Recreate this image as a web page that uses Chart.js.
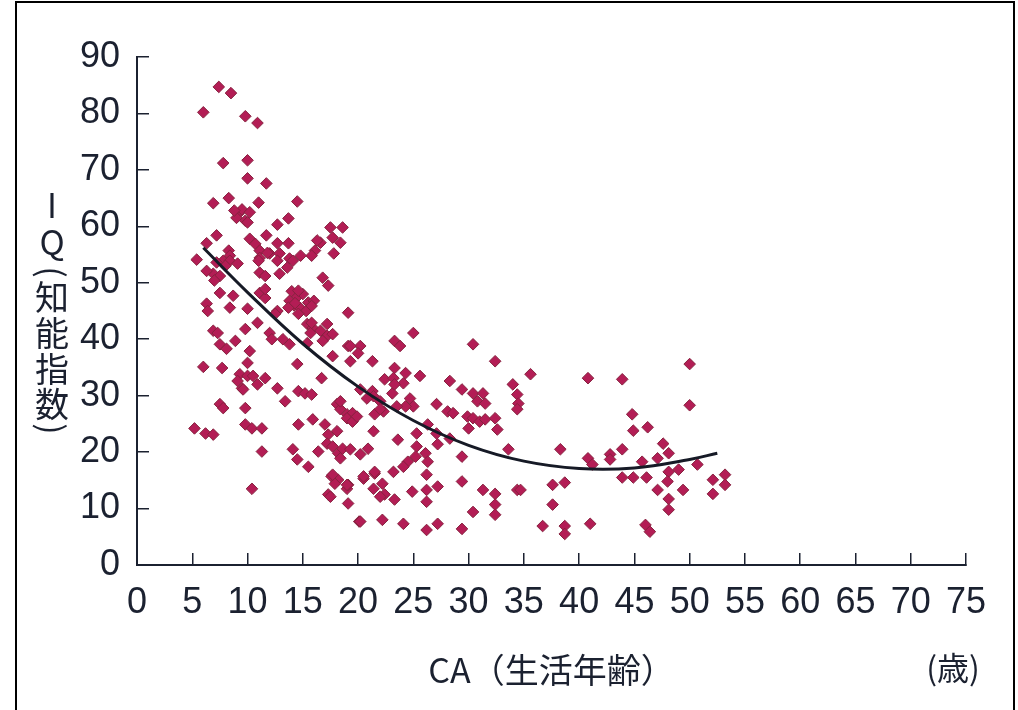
<!DOCTYPE html>
<html>
<head>
<meta charset="utf-8">
<title>IQ - CA</title>
<script src="https://cdn.jsdelivr.net/npm/chart.js@4.4.1/dist/chart.umd.min.js"></script>
<style>
    html, body { margin: 0; padding: 0; background: #ffffff; overflow: hidden; }
    #wrap { position: relative; width: 1018px; height: 710px; }
    #frame { position: absolute; left: 15px; top: 1px; width: 1000px; height: 740px; border: 2px solid #000; box-sizing: border-box; pointer-events: none; }
</style>
</head>
<body>
<div id="wrap">
    <canvas id="iqChart" width="1018" height="710"></canvas>
    <div id="frame"></div>
</div>
<script>
// CA (tuổi) cua tung diem
var ageValues = [
    7.4, 8.5, 6.0, 9.8, 10.9, 7.8, 10.0, 10.0, 11.7, 14.5, 6.9, 8.3, 9.2, 9.0, 9.5, 9.8, 10.2, 8.8, 11.0, 10.0,
    13.7, 12.7, 17.5, 18.6, 17.7, 18.4, 17.8, 7.2, 6.3, 8.3, 8.4, 10.2, 10.7, 11.1, 11.7, 12.7, 13.7, 12.0, 12.9, 16.6,
    16.1, 15.8, 14.8, 5.4, 7.8, 8.4, 7.2, 9.1, 11.1, 11.8, 13.8, 16.3, 11.0,
    6.9, 6.3, 7.5, 8.0, 7.0, 11.1, 11.6, 12.9, 13.6, 12.7, 14.1, 16.8, 17.3, 7.5, 8.7, 11.1, 11.6, 11.6,
    14.0, 14.5, 15.0, 15.5, 14.2, 14.8, 15.3, 16.0, 13.8, 14.6, 14.6, 15.8, 13.7, 14.3,
    6.3, 6.4, 8.4, 10.0, 12.7, 12.5, 19.1, 10.9, 6.9, 7.3, 9.8, 12.0, 12.2, 15.4, 15.9, 16.6, 17.2, 17.7, 15.7, 16.8,
    15.8, 17.2, 13.2, 13.8, 15.4, 7.5, 8.1, 8.9, 10.2, 17.7, 19.1, 19.3, 6.0, 7.7, 10.0, 14.5, 9.3, 10.0, 10.5, 9.1,
    9.5, 9.6, 10.9, 11.6, 12.7, 16.7, 14.6, 15.2, 15.8,
    18.1, 18.4, 19.0, 19.5, 7.5, 7.8, 9.8, 13.4, 5.2, 6.2, 6.9, 9.8, 10.4, 11.3, 14.6, 15.9, 17.0, 17.3, 17.2, 18.1,
    19.0, 19.5, 11.3, 14.1, 14.5, 15.5, 16.4, 17.7, 18.2, 18.6, 19.3, 17.6, 18.2, 17.9, 19.0, 10.4, 17.3,
    18.4, 20.2, 20.9, 17.7, 19.1, 20.5, 21.5, 17.5, 19.1, 20.1,
    25.0, 23.3, 23.8, 20.2, 20.0, 30.4, 32.4, 21.3, 23.3, 24.3, 22.4, 23.2, 24.1, 25.6, 28.3, 29.4, 30.4, 31.3, 30.8, 31.5,
    34.0, 34.4, 34.5, 34.4, 20.2, 21.3, 21.4, 20.8, 22.0, 23.1, 23.3, 24.7, 25.0, 24.3, 23.5, 22.3, 21.5, 22.0, 19.9, 18.4,
    27.1, 28.1, 28.6, 29.9, 30.4, 31.0, 31.5, 30.0, 32.4, 32.6, 26.3, 27.1, 28.3, 27.2, 21.4, 23.6, 25.3, 25.3, 26.1, 25.2,
    24.5, 24.1, 26.3, 26.2, 23.2, 29.4, 33.6, 20.5, 21.5, 19.0, 22.2, 22.4, 23.3, 22.0, 21.4, 24.9, 26.2, 26.2, 27.2, 29.4,
    31.3, 32.4, 32.4, 32.4, 30.4, 34.4, 20.2, 22.2, 24.1, 26.2, 27.2, 29.4, 19.3,
    35.6, 40.8, 43.9, 50.0, 50.0, 44.8, 44.9, 46.2, 38.3, 40.8, 41.2, 42.8, 42.8, 43.9, 45.7, 47.1, 47.6, 48.1, 43.9, 44.9,
    46.1, 48.1, 49.0, 50.7, 48.0, 47.1, 49.4, 48.1, 48.1, 52.1, 53.2, 53.2, 52.1, 37.6, 38.7, 37.6, 36.7, 38.7, 38.7, 41.0,
    46.0, 46.4, 34.7
];
// IQ cua tung diem
var iqValues = [
    84.7, 83.6, 80.2, 79.5, 78.3, 71.2, 71.7, 68.5, 67.6, 64.4, 64.1, 65.0, 62.3, 61.5, 63.0, 61.0, 62.5, 62.8, 64.2, 60.7,
    61.4, 60.3, 59.8, 59.8, 58.0, 57.1, 55.2, 58.4, 57.0, 55.7, 54.8, 57.8, 56.9, 55.7, 58.4, 57.0, 57.0, 55.2, 55.2, 57.1,
    55.7, 54.8, 54.8, 54.1, 53.9, 53.9, 53.6, 53.4, 54.4, 55.3, 54.3, 57.5, 53.9,
    51.6, 52.1, 51.2, 53.0, 50.4, 51.8, 51.2, 51.6, 52.7, 53.9, 53.9, 50.9, 49.5, 48.2, 47.7, 48.2, 47.3, 48.9,
    48.5, 47.5, 48.0, 46.5, 46.0, 45.5, 45.0, 46.8, 46.8, 44.5, 48.6, 45.9, 45.6, 46.4,
    46.3, 45.0, 45.6, 45.4, 45.0, 44.5, 44.7, 42.9, 41.5, 41.1, 41.8, 41.1, 40.0, 42.7, 42.0, 41.5, 40.6, 40.9, 41.1, 39.7,
    42.9, 42.7, 40.0, 39.1, 39.3, 39.1, 38.3, 39.7, 37.9, 37.0, 38.8, 36.1, 35.1, 34.9, 35.8, 35.6, 33.8, 33.5, 33.5, 32.6,
    31.3, 31.1, 32.0, 33.1, 31.3, 33.1, 30.8, 30.4, 30.2,
    28.5, 27.6, 26.7, 26.9, 28.5, 27.8, 27.8, 29.0, 24.2, 23.3, 23.1, 24.9, 24.2, 24.2, 24.9, 25.8, 24.9, 23.1, 21.5, 23.7,
    26.0, 25.4, 20.1, 20.5, 18.7, 17.4, 20.1, 21.0, 19.8, 20.6, 20.5, 15.7, 15.1, 14.4, 13.5, 13.5, 12.5,
    18.9, 19.6, 20.6, 16.0, 14.2, 15.3, 16.2, 12.1, 10.9, 7.7,
    41.1, 39.7, 38.8, 38.8, 37.5, 39.1, 36.1, 36.1, 34.9, 34.0, 32.9, 33.1, 32.2, 33.5, 32.6, 31.1, 30.4, 30.4, 29.0, 28.6,
    32.0, 30.2, 28.6, 27.6, 31.1, 30.8, 29.9, 29.5, 29.0, 30.4, 32.0, 29.5, 28.1, 28.1, 28.1, 27.2, 26.7, 27.6, 26.3, 29.0,
    28.5, 27.2, 26.9, 26.3, 26.0, 25.4, 25.8, 24.2, 26.0, 24.0, 24.9, 23.3, 22.4, 21.4, 23.7, 22.2, 23.3, 21.0, 19.8, 19.2,
    18.3, 17.4, 18.3, 16.0, 16.5, 19.2, 20.5, 15.7, 16.5, 14.2, 14.4, 12.5, 11.6, 12.1, 13.5, 13.0, 13.3, 11.2, 13.9, 14.8,
    13.3, 12.6, 10.7, 8.9, 9.4, 13.3, 7.7, 8.0, 7.3, 6.2, 7.3, 6.4, 38.8,
    33.8, 33.1, 32.9, 35.6, 28.3, 26.7, 23.8, 24.4, 20.5, 18.9, 17.8, 19.6, 18.7, 20.5, 18.3, 18.9, 21.5, 19.8, 15.5, 15.5,
    15.5, 16.5, 16.9, 17.8, 14.8, 13.3, 13.3, 11.7, 9.8, 15.1, 16.0, 14.2, 12.6, 14.2, 14.6, 10.7, 6.9, 6.9, 5.5, 7.3,
    7.1, 5.9, 13.3
];
// duong cong xu huong (doc tu hinh)
var fitAge = [6, 10, 15, 20, 25, 30, 35, 40, 45, 50, 52.5];
var fitIq = [56.2, 48.3, 39.2, 31.6, 25.6, 21.2, 18.4, 17.1, 17.2, 18.7, 19.8];

var xTicks = { min: 0, max: 75, step: 5 };
var yTicks = { min: 0, max: 90, step: 10 };
var xTitle = 'CA（生活年齢）';
var xUnit = '(歳)';
var yTitleChars = ['I', 'Q', '(', '知', '能', '指', '数', ')'];

(function () {
    "use strict";

    var inkColor = '#1b2130';
    var tickFont = { family: '"Liberation Sans", Arial, sans-serif', size: 36 };
    var cjkFamily = '"Noto Sans CJK JP", "Noto Sans", sans-serif';

    //------------------------------ du lieu --------------------------
    var points = [];
    for (var i = 0; i < ageValues.length; i++) {
        points.push({ x: ageValues[i], y: iqValues[i] });
    }
    var fitPoints = [];
    for (var j = 0; j < fitAge.length; j++) {
        fitPoints.push({ x: fitAge[j], y: fitIq[j] });
    }

    //------------------------------ chu thich truc (chu doc) --------------------------
    var axisTextPlugin = {
        id: 'axisText',
        afterDraw: function (chart) {
            var ctx = chart.ctx;
            var yPos = [205, 242, 272, 297, 333, 369, 404, 429];
            ctx.save();
            ctx.fillStyle = inkColor;
            ctx.textAlign = 'center';
            ctx.textBaseline = 'middle';
            ctx.font = '34px ' + cjkFamily;
            for (var k = 0; k < yTitleChars.length; k++) {
                var c = yTitleChars[k];
                if (c === '(' || c === ')') {
                    // ngoac xoay doc
                    ctx.save();
                    ctx.translate(52, yPos[k]);
                    ctx.rotate(Math.PI / 2);
                    ctx.fillText(c, 0, 0);
                    ctx.restore();
                } else {
                    ctx.fillText(c, 52, yPos[k]);
                }
            }
            // don vi truc x
            ctx.font = '32px ' + cjkFamily;
            ctx.fillText(xUnit, 953, 668);
            ctx.restore();
        }
    };

    var ctxChart = document.getElementById('iqChart').getContext('2d');
    var chart = new Chart(ctxChart, {
        type: 'scatter',
        data: {
            datasets: [{
                type: 'line',
                data: fitPoints,
                borderColor: '#161a26',
                borderWidth: 3,
                pointRadius: 0,
                tension: 0.4,
                fill: false,
                order: 0
            }, {
                type: 'scatter',
                data: points,
                pointStyle: 'rectRot',
                pointRadius: 5.8,
                backgroundColor: '#b31d55',
                borderColor: '#86223f',
                borderWidth: 1,
                order: 1
            }]
        },
        options: {
            responsive: false,
            devicePixelRatio: 1,
            animation: false,
            layout: {
                padding: { left: 0, top: 57, right: 52, bottom: 0 }
            },
            plugins: {
                legend: { display: false },
                tooltip: { enabled: false }
            },
            scales: {
                x: {
                    type: 'linear',
                    position: 'bottom',
                    min: xTicks.min,
                    max: xTicks.max,
                    afterFit: function (scale) { scale.height = 145; },
                    border: { display: true, color: inkColor, width: 2 },
                    grid: { drawOnChartArea: false, drawTicks: true, tickLength: -12, color: inkColor, lineWidth: 1.5 },
                    ticks: { stepSize: xTicks.step, color: inkColor, font: tickFont, padding: 28, maxRotation: 0, autoSkip: false },
                    title: {
                        display: true,
                        text: xTitle,
                        color: inkColor,
                        font: { family: cjkFamily, size: 34 },
                        padding: { top: 0, bottom: 20 }
                    }
                },
                y: {
                    min: yTicks.min,
                    max: yTicks.max,
                    afterFit: function (scale) { scale.width = 137; },
                    border: { display: true, color: inkColor, width: 2 },
                    grid: { drawOnChartArea: false, drawTicks: true, tickLength: -12, color: inkColor, lineWidth: 1.5 },
                    ticks: { stepSize: yTicks.step, color: inkColor, font: tickFont, padding: 29 }
                }
            }
        },
        plugins: [axisTextPlugin]
    });
})();
</script>
</body>
</html>
